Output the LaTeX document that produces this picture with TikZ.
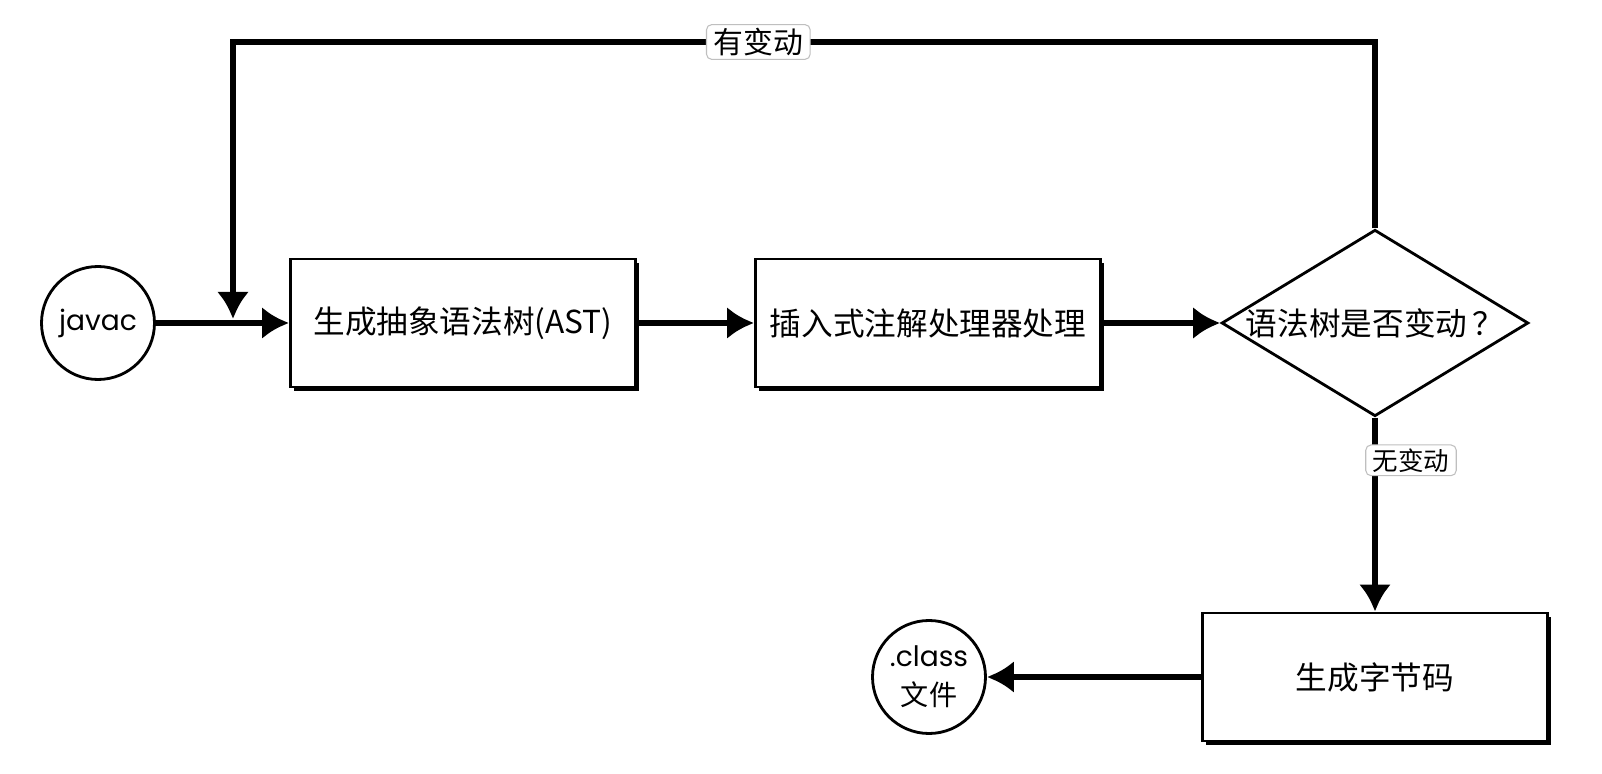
\documentclass[tikz,border=0pt]{standalone}
\usepackage{fontspec}
\setmainfont{Noto Sans CJK SC}
\newfontfamily\latinfont{Poppins}
\usetikzlibrary{shapes.geometric, shadows, arrows.meta}

\begin{document}
\begin{tikzpicture}[
    start/.style = {draw, circle, line width=1.6pt, minimum size=2.26cm, inner sep=0pt, align=center, font=\fontsize{16}{21}\selectfont},
    work/.style = {draw, rectangle, line width=1.6pt, fill=white, minimum width=6.9cm, minimum height=2.56cm, font=\fontsize{18}{20}\selectfont,
        drop shadow={shadow xshift=0.07cm, shadow yshift=-0.08cm, fill=black, opacity=1}},
    check/.style = {draw, diamond, line width=1.6pt, aspect=1.645, minimum width=6.12cm, minimum height=3.72cm, inner sep=0pt, font=\fontsize{18}{20}\selectfont},
    tag/.style = {draw=black!25, fill=white, rounded corners=3pt, line width=0.6pt, inner xsep=4pt, inner ysep=2pt, font=\fontsize{17}{19}\selectfont},
    flow/.style = {line width=3.6pt, -{Latex[length=0.54cm, width=0.64cm]}},
    node distance=7.3cm]

    \useasboundingbox (-1.96,6.46) rectangle (30.08,-9.02);

    \node[start] (javac) {\latinfont javac};
    \node[work] (ast) [right of= javac] {生成抽象语法树(AST)};
    \node[work, node distance=9.3cm] (apt) [right of= ast] {插入式注解处理器处理};
    \node[check, node distance=8.94cm] (changed) [right of= apt] {语法树是否变动\,？};

    \node[work, node distance=7.08cm] (bytecode) [below of= changed] {生成字节码};
    \node[start, node distance=8.92cm] (class) [left of= bytecode] {{\latinfont .class}\\[1pt]文件};

    % loop back
    \coordinate (top) at (0,5.62);
    \coordinate (merge) at (2.7,0.08);

    \draw[flow] (javac) -- (ast);
    \draw[flow] (ast) -- (apt);
    \draw[flow] (apt) -- (changed);
    \draw[flow] (changed) -- node[tag, pos=0.22, xshift=0.72cm, font=\fontsize{14.5}{16}\selectfont] {无变动} (bytecode);
    \draw[flow] (bytecode) -- (class);

    \draw[flow] (changed.north) -- (changed.north |- top) -- node[tag, pos=0.54] {有变动} (merge |- top) -- (merge);

\end{tikzpicture}
\end{document}
